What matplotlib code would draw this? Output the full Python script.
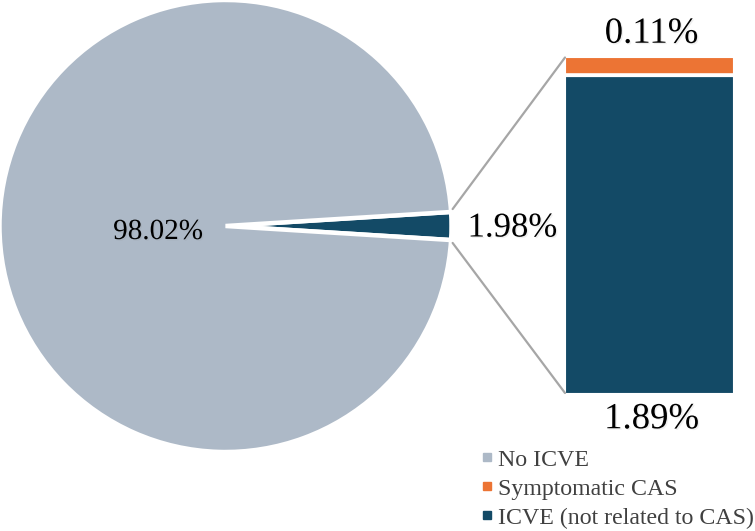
import matplotlib
matplotlib.use('Agg')
import matplotlib.pyplot as plt
import matplotlib.patheffects as pe
from matplotlib.lines import Line2D
from matplotlib.patches import ConnectionPatch

plt.rcParams['font.family'] = ['Liberation Serif', 'DejaVu Serif']

W, H = 755, 531

pie_labels = ['No ICVE', 'ICVE']
pie_values = [98.02, 1.98]
bar_values = [1.89, 0.11]
legend_labels = ['No ICVE', 'Symptomatic CAS', 'ICVE (not related to CAS)']

grey = '#adb9c7'
navy = '#134a66'
orange = '#ec7434'


def px_axes(fig, left, top, right, bottom):
    return fig.add_axes([left / W, 1 - bottom / H, (right - left) / W, (bottom - top) / H])


fig = plt.figure(figsize=(W / 100, H / 100), dpi=100, facecolor='white')

# pie on the left, small slice centred on the 3 o'clock position
ax_pie = px_axes(fig, -0.5, 0, 451.5, 452)
half = pie_values[1] / 100 * 360 / 2
ax_pie.pie(pie_values[::-1], colors=[navy, grey], startangle=-half, radius=1,
           wedgeprops=dict(edgecolor='white', linewidth=3.2))
ax_pie.set_xlim(-1, 1)
ax_pie.set_ylim(-1, 1)
ax_pie.axis('off')

# stacked bar on the right
ax_bar = px_axes(fig, 565, 57.5, 733, 393)
ax_bar.bar([0], [bar_values[0]], width=1, color=navy, edgecolor='white', linewidth=0.8)
ax_bar.bar([0], [bar_values[1]], bottom=[bar_values[0]], width=1, color=orange, edgecolor='white', linewidth=0.8)
ax_bar.plot([-0.5, 0.5], [bar_values[0] + 0.005] * 2, color='white', lw=2.6, solid_capstyle='butt')
ax_bar.set_xlim(-0.5, 0.5)
ax_bar.set_ylim(0, sum(bar_values))
ax_bar.axis('off')

# connector lines from the slice to the bar corners
for ya, yb in [(0.075, sum(bar_values)), (-0.075, 0)]:
    con = ConnectionPatch(xyA=(1.005, ya), coordsA=ax_pie.transData,
                          xyB=(-0.5, yb), coordsB=ax_bar.transData,
                          color='#a6a6a6', lw=1.6)
    fig.add_artist(con)

# value labels, with the faint shadow the original has
shadow = [pe.withSimplePatchShadow(offset=(1, -1), shadow_rgbFace='#808080', alpha=0.12)]
label_spec = [(158, 232, pie_values[0], 21), (512.5, 228, pie_values[1], 25),
              (651.5, 33.5, bar_values[1], 26.5), (651.5, 419, bar_values[0], 26.5)]
for x, y, v, size in label_spec:
    fig.text(x / W, 1 - y / H, '%.2f%%' % v, fontsize=size, ha='center', va='center',
             color='black', path_effects=shadow)

# legend
handles = [Line2D([], [], linestyle='none', marker='s', markersize=5.5, color=c)
           for c in [grey, orange, navy]]
fig.legend(handles, legend_labels, loc='lower left', bbox_to_anchor=(475 / W, 1 - 531 / H),
           frameon=False, fontsize=17.2, labelcolor='#404040', handlelength=0.8,
           handletextpad=0.05, labelspacing=0.3, borderpad=0.1, borderaxespad=0)

fig.savefig('out.png', dpi=100, facecolor='white')
